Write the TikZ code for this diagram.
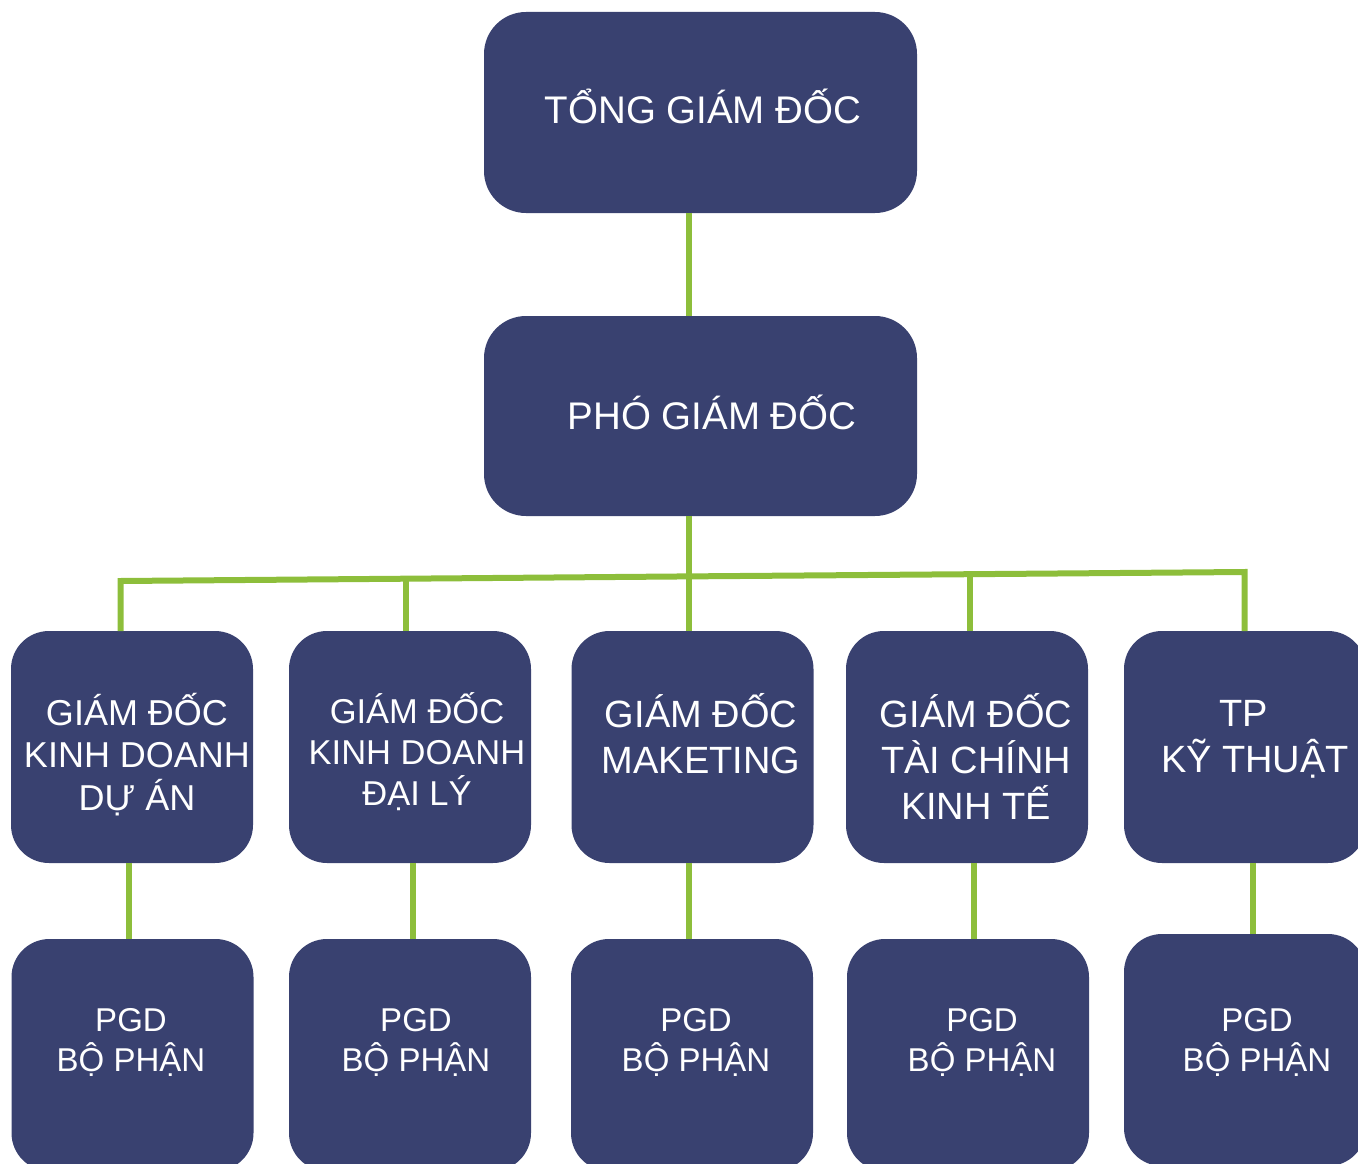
\documentclass[tikz,border=0pt]{standalone}
\usepackage{fontspec}
\setmainfont{Liberation Sans}
\usetikzlibrary{calc}
\definecolor{boxblue}{RGB}{57,65,112}
\definecolor{linegreen}{RGB}{141,190,59}
\begin{document}
\begin{tikzpicture}[x=1pt,y=-1pt,
  bigbox/.style={rectangle,rounded corners=42pt,fill=boxblue,inner sep=0,outer sep=0,minimum width=433pt,minimum height=201pt},
  smallbox/.style={rectangle,rounded corners=38pt,fill=boxblue,inner sep=0,outer sep=0,minimum width=242pt,minimum height=232pt},
  lbl/.style={text=white,align=center,anchor=base,inner sep=0,outer sep=0},
  conn/.style={draw=linegreen,line width=6pt}]
\useasboundingbox (0,0) rectangle (1358,1164);
\clip (0,0) rectangle (1358,1164);
% boxes
\node[bigbox] (top) at (700.5,112.5) {};
\node[bigbox,minimum height=200pt] (vp) at (700.5,416) {};
\node[smallbox] (r1) at (132,747) {};
\node[smallbox] (r2) at (410,747) {};
\node[smallbox] (r3) at (692.5,747) {};
\node[smallbox] (r4) at (967,747) {};
\node[smallbox] (r5) at (1245,747) {};
\node[smallbox] (p1) at (132.5,1055) {};
\node[smallbox] (p2) at (410,1055) {};
\node[smallbox] (p3) at (692,1055) {};
\node[smallbox] (p4) at (968,1055) {};
\node[smallbox] (p5) at (1245,1050) {};
% junctions
\coordinate (j1) at (120.5,581);
\coordinate (j2) at (406,578.7);
\coordinate (j3) at (688.5,576.4);
\coordinate (j4) at (969.5,574.2);
\coordinate (j5) at (1244.5,572);
\coordinate (k1) at (128.5,900);
\coordinate (k2) at (412.5,900);
\coordinate (k3) at (688.5,900);
\coordinate (k4) at (973.5,900);
\coordinate (k5) at (1253,900);
% connectors
\draw[conn] (j3 |- top.south) -- (j3 |- vp.north);
\draw[conn] (j3 |- vp.south) -- (j3) -- (j3 |- r3.north);
\draw[conn] (j1 |- r1.north) -- (j1) -- (j2) -- (j3) -- (j4) -- (j5) -- (j5 |- r5.north);
\draw[conn] (j2) -- (j2 |- r2.north);
\draw[conn] (j4) -- (j4 |- r4.north);
\draw[conn] (k1 |- r1.south) -- (k1 |- p1.north);
\draw[conn] (k2 |- r2.south) -- (k2 |- p2.north);
\draw[conn] (k3 |- r3.south) -- (k3 |- p3.north);
\draw[conn] (k4 |- r4.south) -- (k4 |- p4.north);
\draw[conn] (k5 |- r5.south) -- (k5 |- p5.north);
% labels (anchor=base is the baseline of the last line)
\node[lbl,font=\fontsize{38.5}{46}\selectfont] (ttop) at (703,123) {TỔNG GIÁM ĐỐC};
\node[lbl,font=\fontsize{38.5}{46}\selectfont] (tvp) at (712,429) {PHÓ GIÁM ĐỐC};
\node[lbl,font=\fontsize{36}{42.5}\selectfont] (tr1) at (137,810) {GIÁM ĐỐC\\KINH DOANH\\DỰ ÁN};
\node[lbl,font=\fontsize{34.5}{41}\selectfont] (tr2) at (417,805) {GIÁM ĐỐC\\KINH DOANH\\ĐẠI LÝ};
\node[lbl,font=\fontsize{38}{46}\selectfont] (tr3) at (701,773) {GIÁM ĐỐC\\MAKETING};
\node[lbl,font=\fontsize{38}{46}\selectfont] (tr4) at (976,819) {GIÁM ĐỐC\\TÀI CHÍNH\\KINH TẾ};
\node[lbl,font=\fontsize{38}{46}\selectfont] (tr5) at (1255,772) {TP\hspace*{22pt}\\KỸ THUẬT};
\node[lbl,font=\fontsize{33}{40}\selectfont] (tp1) at (131,1071) {PGD\\BỘ PHẬN};
\node[lbl,font=\fontsize{33}{40}\selectfont] (tp2) at (416,1071) {PGD\\BỘ PHẬN};
\node[lbl,font=\fontsize{33}{40}\selectfont] (tp3) at (696,1071) {PGD\\BỘ PHẬN};
\node[lbl,font=\fontsize{33}{40}\selectfont] (tp4) at (982,1071) {PGD\\BỘ PHẬN};
\node[lbl,font=\fontsize{33}{40}\selectfont] (tp5) at (1257,1071) {PGD\\BỘ PHẬN};
\end{tikzpicture}
\end{document}
